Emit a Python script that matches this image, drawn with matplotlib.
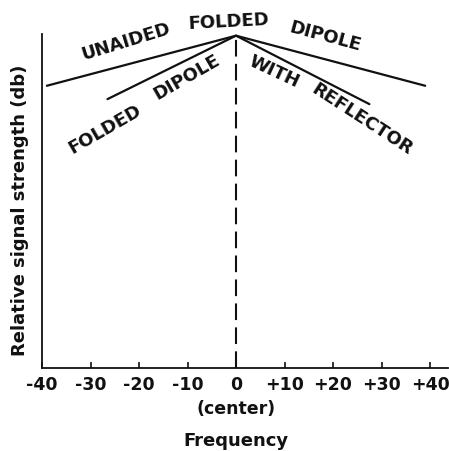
import matplotlib
matplotlib.use("Agg")
import matplotlib.pyplot as plt

# data (frequency offset vs relative dB, arbitrary scale)
unaided_x = [-39, 0, 39]
unaided_y = [8.45, 9.95, 8.45]
reflector_x = [-26.5, 0, 27.5]
reflector_y = [8.05, 9.95, 7.9]

tick_pos = [-40, -30, -20, -10, 0, 10, 20, 30, 40]
tick_lab = ["-40", "-30", "-20", "-10", "0", "+10", "+20", "+30", "+40"]

# (text, x, y, rotation)
labels = [
    ("UNAIDED", -22.7, 9.79, 17),
    ("FOLDED", -1.6, 10.39, 3),
    ("DIPOLE", 18.4, 9.94, -15),
    ("FOLDED", -27.0, 7.16, 30),
    ("DIPOLE", -10.1, 8.74, 30),
    ("WITH", 7.8, 8.89, -25),
    ("REFLECTOR", 26.0, 7.46, -33),
]

ink = "#111111"
font = "DejaVu Sans"

fig = plt.figure(figsize=(4.49, 4.52), dpi=100)
ax = fig.add_axes([42 / 449, 1 - 369 / 452, 406 / 449, 334 / 452])

ax.plot(unaided_x, unaided_y, color=ink, lw=1.6, solid_capstyle="round")
ax.plot(reflector_x, reflector_y, color=ink, lw=1.6, solid_capstyle="round")
ax.plot([0, 0], [0, 10.05], color=ink, lw=1.5, dashes=(8, 3.5))

for txt, x, y, rot in labels:
    ax.text(x, y, txt, rotation=rot, ha="center", va="center", fontsize=13,
            fontweight="bold", family=font, color=ink, rotation_mode="anchor")

ax.set_xlim(-40, 43.7)
ax.set_ylim(0, 10)
ax.spines["top"].set_visible(False)
ax.spines["right"].set_visible(False)
for s in ["left", "bottom"]:
    ax.spines[s].set_color(ink)
    ax.spines[s].set_linewidth(1.3)

ax.set_xticks(tick_pos)
ax.set_xticklabels(tick_lab, fontsize=12.5, fontweight="bold", family=font, color=ink)
ax.tick_params(axis="x", direction="in", length=4, width=1.2, pad=5, colors=ink)
ax.set_yticks([])

ax.text(0, -1.2, "(center)", ha="center", va="center", fontsize=12.5,
        fontweight="bold", family=font, color=ink)
ax.text(0, -2.15, "Frequency", ha="center", va="center", fontsize=13,
        fontweight="bold", family=font, color=ink)
fig.text(20 / 449, 1 - 210 / 452, "Relative signal strength (db)", rotation=90,
         ha="center", va="center", fontsize=13, fontweight="bold", family=font, color=ink)

fig.savefig("out.png", dpi=100)
